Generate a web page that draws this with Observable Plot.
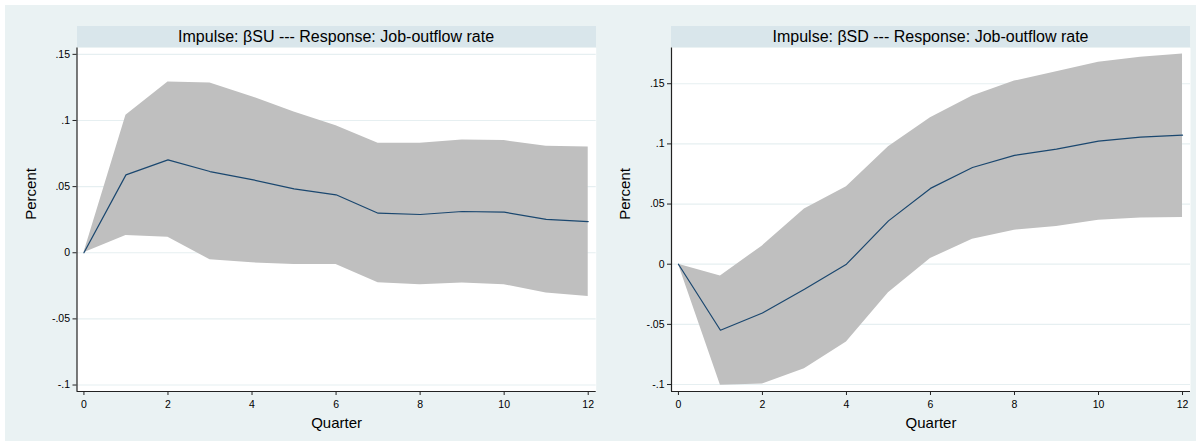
<!DOCTYPE html>
<html><head><meta charset="utf-8">
<script src="https://cdn.jsdelivr.net/npm/d3@7"></script>
<script src="https://cdn.jsdelivr.net/npm/@observablehq/plot@0.6"></script>
<style>
html,body{margin:0;padding:0;background:#fff;}
#wrap{position:relative;width:1201px;height:445px;font-family:"Liberation Sans",Arial,sans-serif;overflow:hidden;}
#bg{position:absolute;left:5px;top:5px;width:1191px;height:436px;background:#eaf2f3;}
.strip{position:absolute;top:26px;height:21px;background:#d9e6eb;color:#000;font-size:16px;line-height:22px;text-align:center;white-space:nowrap;}
.panel{position:absolute;top:0;}
</style></head><body>
<div id="wrap"><div id="bg"></div></div>
<script>
// ---- data ----
const quarters = [0,1,2,3,4,5,6,7,8,9,10,11,12];

const suMean  = [0, 0.0589, 0.0702, 0.0614, 0.0553, 0.0483, 0.0438, 0.0299, 0.0289, 0.0312, 0.0307, 0.0252, 0.0236];
const suLower = [0, 0.0131, 0.0118, -0.0053, -0.0076, -0.0088, -0.0088, -0.0227, -0.0242, -0.0229, -0.0242, -0.0305, -0.0330];
const suUpper = [0, 0.1040, 0.1291, 0.1284, 0.1180, 0.1065, 0.0961, 0.0828, 0.0828, 0.0853, 0.0848, 0.0805, 0.0800];

const sdMean  = [0, -0.0549, -0.0405, -0.0208, 0.0000, 0.0360, 0.0630, 0.0804, 0.0904, 0.0957, 0.1023, 0.1057, 0.1073];
const sdLower = [0, -0.1007, -0.0996, -0.0868, -0.0646, -0.0238, 0.0047, 0.0208, 0.0283, 0.0313, 0.0366, 0.0385, 0.0388];
const sdUpper = [0, -0.0097, 0.0152, 0.0458, 0.0643, 0.0976, 0.1217, 0.1398, 0.1522, 0.1600, 0.1678, 0.1720, 0.1747];

const xTicks = [0,2,4,6,8,10,12];
const yTicks = [-0.1,-0.05,0,0.05,0.1,0.15];
const titles = ["Impulse: \u03B2SU --- Response: Job-outflow rate", "Impulse: \u03B2SD --- Response: Job-outflow rate"];
const xLabel = "Quarter";
const yLabel = "Percent";

// ---- layout ----
const FONT = '"Liberation Sans", Arial, sans-serif';
const xDomain = [-0.165, 12.19];
const fmt = d => d === 0 ? "0" : d.toFixed(2).replace(/0+$/, "").replace("0.", ".");

function panel(cfg) {
  const rows = quarters.map((q, i) => ({q, m: cfg.mean[i], lo: cfg.lower[i], hi: cfg.upper[i]}));
  const chart = Plot.plot({
    width: cfg.width, height: 445,
    marginLeft: cfg.marginLeft, marginRight: cfg.marginRight, marginTop: 47.5, marginBottom: 54,
    style: {background: "transparent", fontFamily: FONT, fontSize: "10.5px", color: "#000", overflow: "visible"},
    x: {domain: xDomain, label: null},
    y: {domain: cfg.yDomain, label: null},
    marks: [
      Plot.frame({fill: "white", stroke: null}),
      Plot.gridY(yTicks, {stroke: "#e6eff1", strokeOpacity: 1, strokeWidth: 1.2}),
      Plot.areaY(rows, {x: "q", y1: "lo", y2: "hi", fill: "#bfbfbf"}),
      Plot.lineY(rows, {x: "q", y: "m", stroke: "#1a476f", strokeWidth: 1.2}),
      Plot.ruleX([xDomain[0]], {stroke: "#222", strokeWidth: 1.2}),
      Plot.ruleY([cfg.yDomain[0]], {stroke: "#222", strokeWidth: 1.2}),
      Plot.axisX({ticks: xTicks, tickSize: 4, tickPadding: 5, label: null, stroke: "#222"}),
      Plot.axisY({ticks: yTicks, tickSize: 4, tickPadding: 3, tickFormat: fmt, label: null, stroke: "#222"}),
      Plot.text([xLabel], {frameAnchor: "bottom", dy: 36, fontSize: 15, fill: "#000"}),
      Plot.text([yLabel], {frameAnchor: "left", rotate: -90, dx: -46, fontSize: 15, fill: "#000"})
    ]
  });
  chart.classList.add("panel");
  chart.style.left = cfg.left + "px";
  const wrap = document.getElementById("wrap");
  wrap.appendChild(chart);
  const strip = document.createElement("div");
  strip.className = "strip";
  strip.style.left = (cfg.left + cfg.marginLeft) + "px";
  strip.style.width = (cfg.width - cfg.marginLeft - cfg.marginRight) + "px";
  strip.textContent = cfg.title;
  wrap.appendChild(strip);
}

panel({left: 0, width: 600, marginLeft: 76.5, marginRight: 4.3, yDomain: [-0.1049, 0.1548],
       mean: suMean, lower: suLower, upper: suUpper, title: titles[0]});
panel({left: 600, width: 601, marginLeft: 71, marginRight: 11, yDomain: [-0.1058, 0.1797],
       mean: sdMean, lower: sdLower, upper: sdUpper, title: titles[1]});
</script>
</body></html>
